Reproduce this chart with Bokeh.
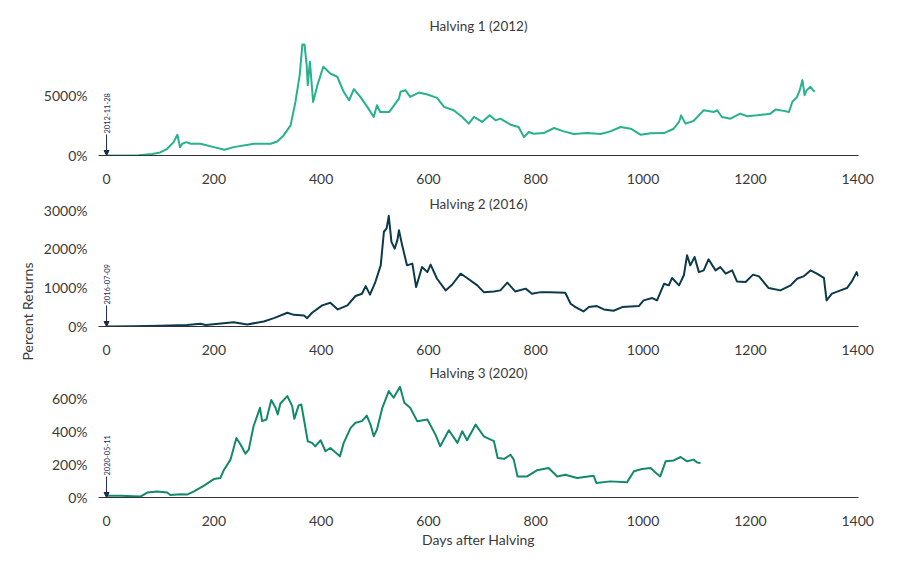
from bokeh.plotting import figure
from bokeh.layouts import column
from bokeh.models import Label, Arrow, NormalHead, FixedTicker, Range1d, CustomJSTickFormatter, Title
from bokeh.embed import file_html
from bokeh.resources import INLINE
import math

FONT = "Lato"
TXT = "#3a3a3a"
NAVY = "#1c2c4c"

x_ticks = [0, 200, 400, 600, 800, 1000, 1200, 1400]
titles = ["Halving 1 (2012)", "Halving 2 (2016)", "Halving 3 (2020)"]
dates = ["2012-11-28", "2016-07-09", "2020-05-11"]
colors = ["#27b18c", "#0c3a4b", "#13896c"]
y_ticks_1 = [0, 5000]
y_ticks_2 = [0, 1000, 2000, 3000]
y_ticks_3 = [0, 200, 400, 600]
y_max = [9700, 3013, 711]

h1_days = [0, 30, 60, 85, 100, 113, 125, 132, 137, 141, 149, 157, 175, 200, 220, 237, 275, 306, 318, 330,
           343, 352, 360, 365, 369, 373, 375, 379, 385, 393, 404, 417, 430, 442, 452, 461, 473, 486, 498,
           504, 510, 527, 545, 548, 557, 566, 582, 598, 616, 629, 647, 663, 675, 685, 700, 714, 725, 734,
           753, 768, 778, 787, 796, 815, 834, 852, 871, 896, 921, 939, 958, 977, 995, 1014, 1039, 1057,
           1067, 1071, 1079, 1094, 1107, 1113, 1132, 1138, 1147, 1163, 1181, 1194, 1213, 1237, 1247,
           1262, 1272, 1278, 1287, 1292, 1297, 1301, 1305, 1312, 1318, 1320]
h1_vals = [0, 10, 30, 120, 250, 555, 1110, 1720, 690, 970, 1110, 970, 975, 695, 470, 695, 975, 975, 1165, 1665,
           2500, 4440, 6665, 9200, 9200, 7500, 5830, 7780, 4440, 5830, 7360, 6800, 6530, 5280, 4580, 5500, 4860,
           4030, 3195, 4170, 3610, 3610, 4720, 5280, 5415, 4860, 5220, 5055, 4780, 4030, 3750, 3195, 2640, 3195,
           2780, 3330, 2915, 3055, 2555, 2360, 1525, 1945, 1805, 1860, 2280, 2000, 1780, 1860, 1780, 2000, 2360,
           2220, 1725, 1845, 1860, 2220, 2780, 3330, 2640, 2860, 3470, 3750, 3610, 3750, 3195, 3055, 3470, 3250,
           3330, 3470, 3805, 3700, 3610, 4440, 4860, 5415, 6250, 5000, 5415, 5690, 5360, 5300]

h2_days = [0, 50, 100, 150, 175, 185, 237, 262, 293, 312, 337, 349, 368, 374, 383, 402, 417, 431, 449, 464,
           476, 483, 491, 501, 511, 517, 522, 526, 531, 537, 542, 545, 551, 560, 570, 577, 588, 598, 604, 616,
           632, 644, 660, 672, 691, 703, 722, 734, 747, 762, 781, 793, 809, 827, 855, 865, 874, 889, 899, 914,
           927, 945, 961, 992, 1001, 1017, 1026, 1039, 1048, 1054, 1067, 1076, 1082, 1088, 1096, 1104, 1113,
           1122, 1135, 1144, 1154, 1166, 1175, 1191, 1205, 1216, 1234, 1256, 1275, 1287, 1299, 1312, 1324,
           1337, 1342, 1352, 1368, 1380, 1389, 1398, 1401]
h2_vals = [0, 5, 20, 40, 70, 40, 112, 52, 130, 215, 353, 300, 285, 215, 353, 543, 612, 440, 543, 785,
           845, 1040, 820, 1145, 1575, 2440, 2525, 2850, 2180, 2005, 2220, 2480, 2090, 1575, 1620, 1015, 1530,
           1400, 1595, 1230, 930, 1075, 1360, 1250, 1060, 885, 900, 930, 1130, 900, 975, 845, 885, 880, 870,
           587, 500, 388, 500, 525, 440, 405, 500, 525, 672, 732, 672, 1100, 1060, 1250, 1060, 1320, 1835,
           1575, 1790, 1400, 1445, 1730, 1445, 1530, 1360, 1445, 1160, 1145, 1335, 1290, 990, 930, 1060, 1230,
           1290, 1445, 1360, 1250, 672, 845, 930, 990, 1160, 1400, 1290]

h3_days = [0, 26, 63, 76, 94, 113, 119, 138, 150, 163, 181, 200, 212, 219, 231, 242, 250, 259, 265, 274,
           286, 290, 298, 307, 315, 319, 324, 337, 346, 350, 358, 363, 369, 375, 383, 389, 399, 408, 417, 435,
           442, 455, 464, 476, 485, 492, 498, 504, 514, 526, 535, 547, 555, 566, 579, 598, 613, 622, 638, 654,
           663, 672, 688, 703, 722, 729, 741, 753, 759, 766, 784, 802, 824, 840, 855, 877, 908, 913, 939, 970,
           983, 998, 1014, 1023, 1032, 1042, 1057, 1070, 1082, 1094, 1101, 1107]
h3_vals = [10, 10, 6, 30, 37, 30, 15, 20, 18, 37, 71, 112, 118, 169, 230, 362, 321, 266, 291, 433,
           545, 464, 474, 592, 545, 504, 571, 616, 555, 478, 560, 565, 454, 342, 332, 311, 348, 281, 301, 250,
           332, 423, 454, 464, 498, 443, 372, 413, 545, 647, 606, 673, 576, 545, 464, 474, 382, 311, 409, 332,
           403, 348, 443, 372, 342, 240, 235, 260, 230, 128, 128, 165, 179, 128, 138, 118, 132, 88, 98, 92,
           159, 173, 179, 152, 128, 220, 225, 246, 220, 230, 213, 210]

FRAME_W, FRAME_H = 760, 117
X0, X1 = -15, 1401.5


def make_panel(i, days, vals, y_ticks, b_top, b_bottom, title_standoff, xlabel=None):
    p = figure(frame_width=FRAME_W, frame_height=FRAME_H,
               x_range=Range1d(X0, X1), y_range=Range1d(0, y_max[i]),
               output_backend="svg", toolbar_location=None,
               min_border_left=98, min_border_right=34,
               min_border_top=b_top, min_border_bottom=b_bottom)
    p.outline_line_color = None
    p.xgrid.visible = False
    p.ygrid.visible = False
    p.background_fill_color = "white"
    p.border_fill_color = "white"

    p.title.text = titles[i]
    p.title.align = "center"
    p.title.text_font = FONT
    p.title.text_font_size = "13.5px"
    p.title.text_font_style = "normal"
    p.title.text_color = TXT
    p.title.standoff = title_standoff

    p.line(days, vals, line_color=colors[i], line_width=2, line_join="round")

    xa = p.xaxis[0]
    xa.ticker = FixedTicker(ticks=x_ticks)
    xa.axis_line_color = "#333333"
    xa.axis_line_width = 1.2
    xa.major_tick_line_color = None
    xa.minor_tick_line_color = None
    xa.major_label_standoff = 12
    xa.major_label_text_font = FONT
    xa.major_label_text_font_size = "14px"
    xa.major_label_text_color = TXT
    if xlabel:
        xa.axis_label = xlabel
        xa.axis_label_text_font = FONT
        xa.axis_label_text_font_size = "14px"
        xa.axis_label_text_font_style = "normal"
        xa.axis_label_text_color = TXT
        xa.axis_label_standoff = 2

    ya = p.yaxis[0]
    ya.ticker = FixedTicker(ticks=y_ticks)
    ya.formatter = CustomJSTickFormatter(code="return tick.toFixed(0) + '%';")
    ya.axis_line_color = None
    ya.major_tick_line_color = None
    ya.minor_tick_line_color = None
    ya.major_label_standoff = 5
    ya.major_label_text_font = FONT
    ya.major_label_text_font_size = "14px"
    ya.major_label_text_color = TXT

    # arrow marking the halving date
    arrow_px = 21
    y_arrow = arrow_px * y_max[i] / FRAME_H
    p.add_layout(Arrow(x_start=0, y_start=y_arrow, x_end=0, y_end=0,
                       end=NormalHead(size=5, fill_color=NAVY, line_color=NAVY),
                       line_color=NAVY, line_width=1))
    p.add_layout(Label(x=0, y=y_arrow, y_offset=1, text=dates[i], angle=math.pi / 2,
                       text_align="left", text_baseline="middle", text_font=FONT,
                       text_font_size="7.5px", text_color=NAVY))
    return p


p1 = make_panel(0, h1_days, h1_vals, y_ticks_1, 38, 37, 10)
p2 = make_panel(1, h2_days, h2_vals, y_ticks_2, 17, 36, -4)
p3 = make_panel(2, h3_days, h3_vals, y_ticks_3, 18, 60, -1, xlabel="Days after Halving")

# shared y-axis label, drawn in the middle panel's left border
p2.add_layout(Title(text="Percent Returns", align="left", offset=-34, standoff=10,
                    text_font=FONT, text_font_size="14px", text_font_style="normal",
                    text_color=TXT), "left")

layout = column(p1, p2, p3, spacing=0)
open("out.html", "w").write(file_html(layout, INLINE))
